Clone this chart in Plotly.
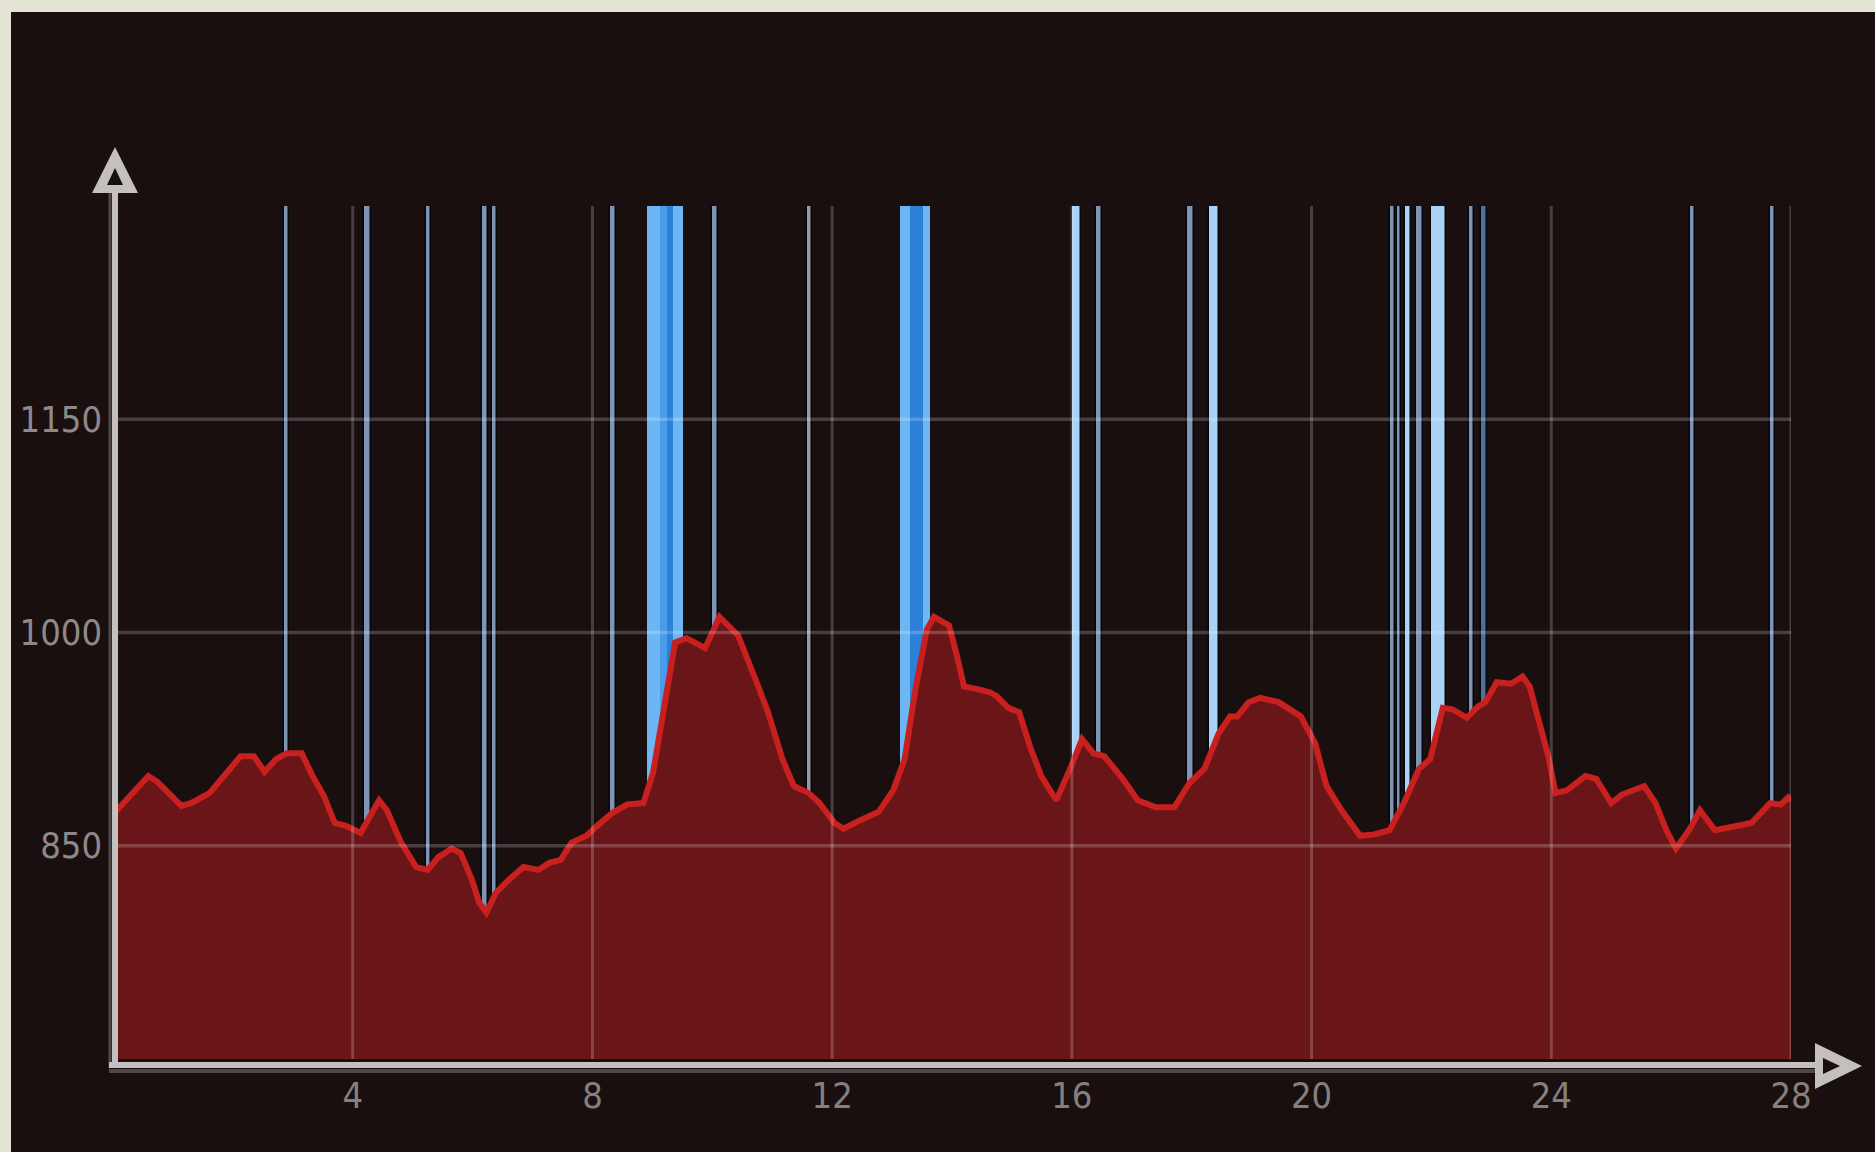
import plotly.graph_objects as go

# ---------------- data ----------------
X_VALUES = [0, 0.13, 0.59, 0.74, 1.14, 1.30, 1.61, 2.13, 2.35, 2.53,
            2.72, 2.90, 3.15, 3.33, 3.52, 3.70, 3.89, 4.13, 4.26, 4.44,
            4.57, 4.81, 5.06, 5.25, 5.43, 5.65, 5.80, 5.99, 6.11, 6.23,
            6.39, 6.60, 6.85, 7.10, 7.28, 7.47, 7.65, 7.90, 8.08, 8.33,
            8.58, 8.85, 9.01, 9.19, 9.38, 9.57, 9.88, 10.12, 10.43, 10.74,
            10.93, 11.17, 11.36, 11.61, 11.79, 12.04, 12.19, 12.47, 12.78, 13.02,
            13.21, 13.39, 13.58, 13.70, 13.95, 14.08, 14.20, 14.44, 14.63, 14.75,
            14.94, 15.12, 15.30, 15.49, 15.74, 15.99, 16.17, 16.36, 16.54, 16.85,
            17.10, 17.40, 17.71, 17.96, 18.21, 18.45, 18.64, 18.76, 18.95, 19.14,
            19.45, 19.82, 20.06, 20.25, 20.50, 20.81, 21.05, 21.30, 21.54, 21.79,
            21.98, 22.19, 22.35, 22.59, 22.78, 22.90, 23.09, 23.33, 23.52, 23.64,
            23.76, 23.95, 24.07, 24.26, 24.57, 24.75, 25.00, 25.18, 25.55, 25.74,
            25.92, 26.08, 26.30, 26.48, 26.73, 27.04, 27.34, 27.65, 27.83, 27.95,
            28.0]
Y_VALUES = [872, 878, 899, 895, 878, 880, 887, 913, 913, 902,
            911, 915, 915, 899, 885, 866, 864, 859, 868, 882,
            875, 852, 835, 833, 842, 848, 845, 826, 810, 803,
            817, 826, 835, 833, 838, 840, 852, 857, 864, 873,
            879, 880, 901, 944, 993, 996, 989, 1011, 998, 965,
            944, 911, 892, 887, 880, 866, 862, 868, 874, 889,
            911, 960, 1002, 1011, 1005, 984, 962, 960, 958, 955,
            947, 944, 920, 899, 882, 906, 925, 915, 913, 897,
            882, 877, 877, 894, 904, 929, 941, 941, 951, 954,
            951, 941, 922, 892, 875, 857, 858, 861, 880, 904,
            911, 947, 946, 940, 948, 951, 965, 964, 969, 962,
            944, 913, 887, 889, 899, 897, 880, 886, 892, 880,
            861, 848, 861, 875, 861, 864, 866, 880, 879, 884,
            882]

EVENT_START = [2.85, 4.19, 5.22, 6.15, 6.32, 8.29, 8.91, 9.12, 9.25, 9.35,
               10.00, 11.58, 13.14, 13.30, 13.52, 16.00, 16.40, 17.92, 18.29,
               21.31, 21.42, 21.56, 21.75, 22.00, 22.62, 22.82, 26.31, 27.65]
EVENT_END = [2.94, 4.30, 5.30, 6.26, 6.41, 8.40, 9.12, 9.25, 9.35, 9.51,
             10.09, 11.67, 13.30, 13.52, 13.64, 16.15, 16.50, 18.03, 18.46,
             21.39, 21.50, 21.66, 21.86, 22.25, 22.71, 22.93, 26.40, 27.74]
EVENT_KIND = [1, 1, 1, 1, 1, 1, 3, 4, 5, 3,
              1, 0, 3, 5, 3, 2, 1, 1, 2,
              1, 1, 2, 1, 2, 1, 6, 1, 1]

X_TICKS = [4, 8, 12, 16, 20, 24, 28]
Y_TICKS = [850, 1000, 1150]
X_RANGE = [0, 28]
Y_RANGE = [700, 1300]

# ---------------- style ----------------
W, H = 1875, 1152
ML, MR, MT, MB = 113, 84, 206, 93
PW = W - ML - MR
PH = H - MT - MB
BOTTOM = H - MB

DARK = "#1a0f0f"
BEIGE = "#e4e4d6"
AXIS = "#c4c0c0"
SHADOW = "#4e4a4a"
KIND_COLORS = {0: "#9a9aa2", 1: "#7d95b2", 2: "#a9d2f4", 3: "#6cb6f4",
               4: "#4a9ce8", 5: "#2c80d8", 6: "#4d7099"}
KIND_OUTLINE = {0: 1.5, 1: 1.5, 2: 1.5, 3: 0, 4: 0, 5: 0, 6: 1.5}
FONT = "Liberation Sans Narrow, Arial Narrow, DejaVu Sans Condensed, Roboto, sans-serif"


def px(x):
    return (x - ML) / PW


def py(y):
    return (BOTTOM - y) / PH


fig = go.Figure()

# event bars (drawn beneath the filled area)
fig.add_trace(go.Bar(
    x=[(s + e) / 2 for s, e in zip(EVENT_START, EVENT_END)],
    width=[e - s for s, e in zip(EVENT_START, EVENT_END)],
    y=[Y_RANGE[1] - Y_RANGE[0]] * len(EVENT_START),
    base=Y_RANGE[0],
    marker=dict(color=[KIND_COLORS[k] for k in EVENT_KIND],
                line=dict(color="#03060c", width=[KIND_OUTLINE[k] for k in EVENT_KIND])),
    hoverinfo="skip",
    showlegend=False,
))

# filled series
fig.add_trace(go.Scatter(
    x=X_VALUES, y=Y_VALUES, mode="lines",
    line=dict(color="#c8201f", width=6),
    fill="tozeroy", fillcolor="#6a1517",
    showlegend=False,
))

shapes = []
GRID = "rgba(255,255,255,0.2)"
for t in X_TICKS:
    shapes.append(dict(type="line", xref="x", yref="y", x0=t, x1=t,
                       y0=Y_RANGE[0], y1=Y_RANGE[1], layer="above",
                       line=dict(color=GRID, width=3)))
for t in Y_TICKS:
    shapes.append(dict(type="line", xref="x", yref="y", x0=X_RANGE[0], x1=X_RANGE[1],
                       y0=t, y1=t, layer="above",
                       line=dict(color=GRID, width=3.5)))

# beige frame strips
shapes.append(dict(type="rect", xref="paper", yref="paper", x0=px(0), x1=px(11),
                   y0=py(H), y1=py(0), fillcolor=BEIGE, line=dict(width=0), layer="above"))
shapes.append(dict(type="rect", xref="paper", yref="paper", x0=px(0), x1=px(W),
                   y0=py(12), y1=py(0), fillcolor=BEIGE, line=dict(width=0), layer="above"))


def seg(x0, y0, x1, y1, color, width):
    return dict(type="line", xref="paper", yref="paper", x0=px(x0), y0=py(y0),
                x1=px(x1), y1=py(y1), layer="above", line=dict(color=color, width=width))


shapes.append(seg(109, 1071, 1818, 1071, SHADOW, 4))
shapes.append(seg(110, 1068, 110, 192, SHADOW, 3))
shapes.append(seg(109, 1065, 1820, 1065, AXIS, 6))
shapes.append(seg(115, 1068, 115, 190, AXIS, 6))


def tri(pts, color):
    d = "M " + " L ".join(f"{px(a):.5f} {py(b):.5f}" for a, b in pts) + " Z"
    return dict(type="path", xref="paper", yref="paper", path=d, fillcolor=color,
                line=dict(width=0), layer="above")


shapes.append(tri([(115, 147), (92, 193), (138, 193)], AXIS))
shapes.append(tri([(115, 168), (107, 185), (123, 185)], DARK))
shapes.append(tri([(1862, 1066), (1815, 1043), (1815, 1089)], AXIS))
shapes.append(tri([(1840, 1066), (1823, 1058), (1823, 1074)], DARK))

fig.update_layout(
    width=W, height=H,
    margin=dict(l=ML, r=MR, t=MT, b=MB, autoexpand=False),
    paper_bgcolor=DARK, plot_bgcolor="rgba(0,0,0,0)",
    shapes=shapes,
    bargap=0,
    showlegend=False,
    xaxis=dict(range=X_RANGE, tickvals=X_TICKS, ticktext=[str(t) for t in X_TICKS],
               showgrid=False, zeroline=False, showline=False, ticks="",
               ticklabelstandoff=12,
               tickfont=dict(family=FONT, size=36, color="#858080")),
    yaxis=dict(range=Y_RANGE, tickvals=Y_TICKS, ticktext=[str(t) for t in Y_TICKS],
               showgrid=False, zeroline=False, showline=False, ticks="",
               ticklabelstandoff=10,
               tickfont=dict(family=FONT, size=36, color="#8e8a8a")),
)

fig.write_html(
    "out.html",
    config={"displayModeBar": False},
    post_script="document.body.style.margin='0';document.body.style.overflow='hidden';"
                "document.body.style.background='" + DARK + "';",
)
